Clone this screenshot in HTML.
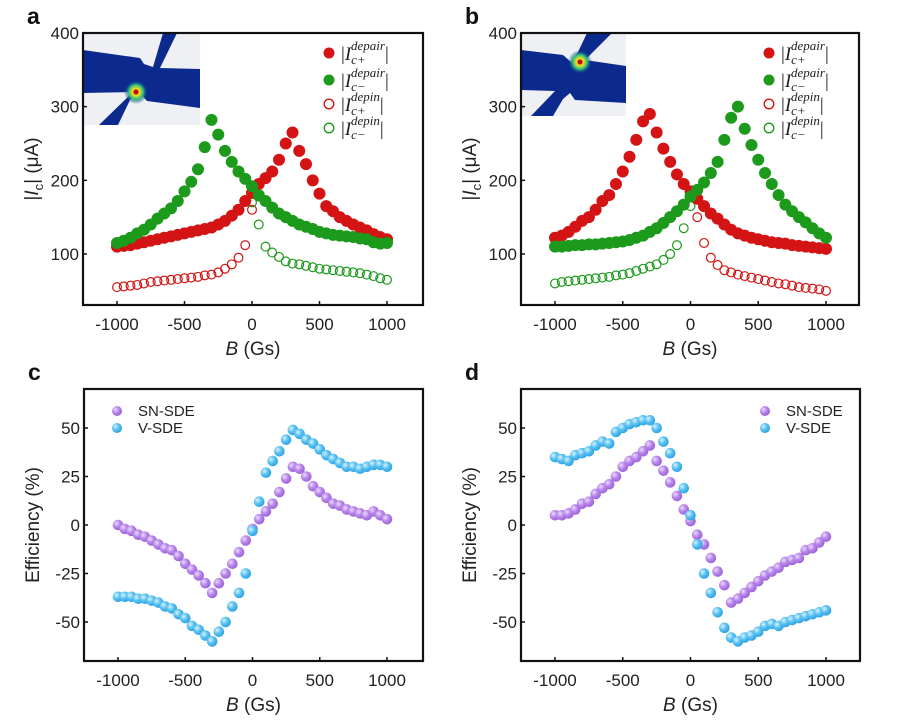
<!DOCTYPE html>
<html><head><meta charset="utf-8"><style>
body{margin:0;background:#fff}
svg{display:block;font-family:"Liberation Sans",sans-serif}
</style></head><body>
<svg id="fig" width="899" height="722" viewBox="0 0 899 722">
<defs>
<radialGradient id="gp" cx="0.35" cy="0.35" r="0.7"><stop offset="0" stop-color="#eadcff"/><stop offset="0.5" stop-color="#b784ea"/><stop offset="1" stop-color="#9a5fd6"/></radialGradient>
<radialGradient id="gb" cx="0.35" cy="0.35" r="0.7"><stop offset="0" stop-color="#d8f2ff"/><stop offset="0.5" stop-color="#55c0f2"/><stop offset="1" stop-color="#2d9fe0"/></radialGradient>
<radialGradient id="hot" cx="0.5" cy="0.5" r="0.5"><stop offset="0" stop-color="#e02000"/><stop offset="0.3" stop-color="#f0e020"/><stop offset="0.6" stop-color="#30c080"/><stop offset="1" stop-color="#0b2a8c" stop-opacity="0"/></radialGradient>
</defs>
</svg>
<script>
// B grid (Gs)
const bFull = [-1000,-950,-900,-850,-800,-750,-700,-650,-600,-550,-500,-450,-400,-350,-300,-250,-200,-150,-100,-50,0,50,100,150,200,250,300,350,400,450,500,550,600,650,700,750,800,850,900,950,1000];
const bNeg = [-1000,-950,-900,-850,-800,-750,-700,-650,-600,-550,-500,-450,-400,-350,-300,-250,-200,-150,-100,-50,0];
const bPos = [0,50,100,150,200,250,300,350,400,450,500,550,600,650,700,750,800,850,900,950,1000];
// panel a
const aDepairPlus = [110,111,112,114,116,118,120,122,124,126,128,130,132,134,136,140,145,152,160,172,183,195,203,212,228,250,265,240,222,200,182,165,158,150,145,140,136,132,127,123,120];
const aDepairMinus = [115,118,122,128,133,140,148,155,162,172,185,198,215,245,282,262,240,225,212,202,192,180,172,163,155,150,145,140,137,134,130,128,126,125,124,123,121,120,116,114,115];
const aDepinPlus = [55,56,57,58,60,62,63,64,65,66,67,68,69,71,72,75,80,86,95,112,160];
const aDepinMinus = [170,140,110,102,96,90,87,86,84,82,80,79,78,77,76,75,74,72,70,67,65];
// panel b
const bDepairPlus = [122,125,130,137,145,150,160,172,180,195,212,232,255,280,290,265,243,225,208,195,185,175,165,155,148,140,133,128,125,122,120,118,116,115,114,112,111,110,109,108,107];
const bDepairMinus = [110,110,111,112,112,113,113,114,115,116,117,119,122,125,130,135,142,150,158,167,178,187,197,210,225,255,285,300,270,248,228,210,195,180,167,158,150,143,135,128,122];
const bDepinMinus = [60,62,63,64,65,66,67,68,69,71,72,74,77,80,83,86,92,100,112,135,165];
const bDepinPlus = [180,150,115,95,85,78,75,72,70,68,66,64,62,60,59,57,55,54,53,52,50];
// panel c
const cSN = [0,-2,-3,-5,-6,-8,-10,-12,-13,-16,-20,-23,-26,-30,-35,-30,-25,-20,-14,-8,-2,3,7,11,17,24,30,29,25,20,17,14,11,10,8,7,6,5,7,5,3];
const cV = [-37,-37,-37,-38,-38,-39,-40,-42,-43,-46,-48,-52,-54,-57,-60,-55,-50,-42,-35,-25,-3,12,27,33,38,44,49,47,44,42,39,36,34,32,30,30,29,30,31,31,30];
// panel d
const dSN = [5,5,6,8,11,12,16,19,21,25,30,33,35,38,41,33,28,22,15,8,2,-5,-10,-17,-24,-31,-40,-38,-35,-32,-29,-26,-24,-22,-19,-18,-17,-13,-12,-9,-6];
const dV = [35,34,33,36,37,38,41,43,42,48,50,52,53,54,54,50,43,37,30,19,5,-10,-25,-35,-45,-53,-58,-60,-58,-57,-55,-52,-51,-52,-50,-49,-48,-47,-46,-45,-44];
const xTicks = [-1000,-500,0,500,1000];
const yTicksI = [100,200,300,400];
const yTicksE = [-50,-25,0,25,50];

const NS="http://www.w3.org/2000/svg";
const svg=document.getElementById('fig');
function mk(tag,attrs,parent){const e=document.createElementNS(NS,tag);for(const k in attrs)e.setAttribute(k,attrs[k]);(parent||svg).appendChild(e);return e;}
const RED="#d41414", GREEN="#1c9a1c";

function makePanel(p){
  const g=mk('g',{});
  
  
  p.g=g;
  p.sx=v=>p.xA+(v+1000)*(p.xB-p.xA)/2000;
  p.sy=v=>p.pA+(v-p.vA)*(p.pB-p.pA)/(p.vB-p.vA);
  return p;
}
function axes(p,yTicks,ytitle){
  const g=p.g;
  const fr=mk('rect',{x:p.L,y:p.T,width:p.R-p.L,height:p.B-p.T,fill:'none',stroke:'#111','stroke-width':2.2},g);
  
  
  xTicks.forEach(v=>{
    const x=p.sx(v);
    mk('line',{x1:x,x2:x,y1:p.B,y2:p.B-4,stroke:'#111','stroke-width':1.5},g);
    const t=mk('text',{x:x,y:p.B+25,'text-anchor':'middle','font-size':17,fill:'#222'},g);
    t.textContent=v;
    
    
  });
  yTicks.forEach(v=>{
    const y=p.sy(v);
    mk('line',{x1:p.L,x2:p.L+4,y1:y,y2:y,stroke:'#111','stroke-width':1.5},g);
    const t=mk('text',{x:p.L-4,y:y+6,'text-anchor':'end','font-size':17,fill:'#222'},g);
    t.textContent=v;
    
    
  });
  const xt=mk('text',{x:(p.L+p.R)/2,y:p.B+50,'text-anchor':'middle','font-size':19,fill:'#222'},g);
  xt.innerHTML='<tspan font-style="italic">B</tspan> (Gs)';
  
  
  const cy=(p.T+p.B)/2;
  const yt=mk('text',{x:0,y:0,'text-anchor':'middle','font-size':19,fill:'#222',transform:`translate(${p.L-45},${cy}) rotate(-90)`},g);
  yt.innerHTML=ytitle;
  
  
  const lt=mk('text',{x:p.L-56,y:p.T-9,'font-size':23,'font-weight':'bold',fill:'#111'},g);
  lt.textContent=p.id;
  
  
}
function series(p,bs,vals,style,name){
  const g=mk('g',{},p.g);
  
  
  vals.forEach((v,i)=>{
    const c=mk('circle',Object.assign({cx:p.sx(bs[i]),cy:p.sy(v)},style),g);
    
    
  });
}
function legendI(p,x,ys){
  const entries=[[RED,true,'c+','depair'],[GREEN,true,'c−','depair'],[RED,false,'c+','depin'],[GREEN,false,'c−','depin']];
  entries.forEach((e,i)=>{
    const g=mk('g',{},p.g);
    
    
    const y=ys[i];
    if(e[1]) mk('circle',{cx:x,cy:y,r:5.5,fill:e[0]},g);
    else mk('circle',{cx:x,cy:y,r:4.8,fill:'none',stroke:e[0],'stroke-width':1.4},g);
    const t=mk('text',{x:x+12,y:y+7,'font-size':19,'font-family':'"Liberation Serif",serif',fill:'#222'},g);
    t.innerHTML=`|<tspan font-style="italic">I</tspan><tspan font-style="italic" font-size="13" dy="4">${e[2]}</tspan><tspan font-style="italic" font-size="13" x="${x+22}" dy="-14">${e[3]}</tspan><tspan dy="10" font-size="19">|</tspan>`;
  });
}
function legendE(p,x,ys){
  [['url(#gp)','SN-SDE'],['url(#gb)','V-SDE']].forEach((e,i)=>{
    const g=mk('g',{},p.g);
    
    
    mk('circle',{cx:x,cy:ys[i],r:5,fill:e[0]},g);
    const t=mk('text',{x:x+21,y:ys[i]+5,'font-size':15,fill:'#222'},g);
    t.textContent=e[1];
  });
}
function inset(p,x,y,w,h,shapes,hot){
  const g=mk('g',{},p.g);
  
  
  mk('rect',{x:x,y:y,width:w,height:h,fill:'#eef0f4'},g);
  shapes.forEach(s=>mk('polygon',{points:s,fill:'#0c2a8e'},g));
  mk('circle',{cx:hot[0],cy:hot[1],r:12,fill:'url(#hot)'},g);
  mk('circle',{cx:hot[0],cy:hot[1],r:2.5,fill:'#c01010'},g);
}

// Panel a
const pa=makePanel({id:'a',L:83,R:423,T:33,B:305,xA:117,xB:387,vA:100,pA:254,vB:400,pB:33});
inset(pa,83,33,117,92,[
 "83,50 140,58 144,64 153,67 163,33 177,33 160,68 200,69 200,108 147,101 139,92 130,100 118,125 99,125 133,92 83,93"
],[136,92]);
axes(pa,yTicksI,'|<tspan font-style="italic">I</tspan><tspan font-size="13" dy="5">c</tspan><tspan dy="-5">| (μA)</tspan>');
series(pa,bNeg.concat([50]),aDepinPlus.concat([178]),{r:4.4,fill:'none',stroke:RED,'stroke-width':1.2},'series-depin-plus');
series(pa,bPos,aDepinMinus,{r:4.4,fill:'none',stroke:GREEN,'stroke-width':1.2},'series-depin-minus');
series(pa,bFull,aDepairPlus,{r:6,fill:RED},'series-depair-plus');
series(pa,bFull,aDepairMinus,{r:6,fill:GREEN},'series-depair-minus');
legendI(pa,329,[53,80,104,128]);

// Panel b
const pb=makePanel({id:'b',L:521,R:859,T:33,B:305,xA:555,xB:826,vA:100,pA:254,vB:400,pB:33});
inset(pb,521,33,105,83,[
 "521,50 563,55 571,62 578,52 587,33 612,33 585,60 626,66 626,103 575,100 570,93 563,99 553,116 531,116 555,91 521,90"
],[580,62]);
axes(pb,yTicksI,'|<tspan font-style="italic">I</tspan><tspan font-size="13" dy="5">c</tspan><tspan dy="-5">| (μA)</tspan>');
series(pb,bNeg,bDepinMinus,{r:4.4,fill:'none',stroke:GREEN,'stroke-width':1.2},'series-depin-minus');
series(pb,bPos,bDepinPlus,{r:4.4,fill:'none',stroke:RED,'stroke-width':1.2},'series-depin-plus');
series(pb,bFull,bDepairPlus,{r:6,fill:RED},'series-depair-plus');
series(pb,bFull,bDepairMinus,{r:6,fill:GREEN},'series-depair-minus');
legendI(pb,769,[53,80,104,128]);

// Panel c
const pc=makePanel({id:'c',L:84,R:423,T:389,B:661,xA:118,xB:387,vA:50,pA:428,vB:-50,pB:622});
axes(pc,yTicksE,'Efficiency (%)');
series(pc,bFull,cSN,{r:5.3,fill:'url(#gp)'},'series-sn-sde');
series(pc,bFull,cV,{r:5.3,fill:'url(#gb)'},'series-v-sde');
legendE(pc,117,[411,428]);

// Panel d
const pd=makePanel({id:'d',L:521,R:860,T:389,B:661,xA:555,xB:826,vA:50,pA:428,vB:-50,pB:622});
axes(pd,yTicksE,'Efficiency (%)');
series(pd,bFull,dSN,{r:5.3,fill:'url(#gp)'},'series-sn-sde');
series(pd,bFull,dV,{r:5.3,fill:'url(#gb)'},'series-v-sde');
legendE(pd,765,[411,428]);
</script>
</body></html>
